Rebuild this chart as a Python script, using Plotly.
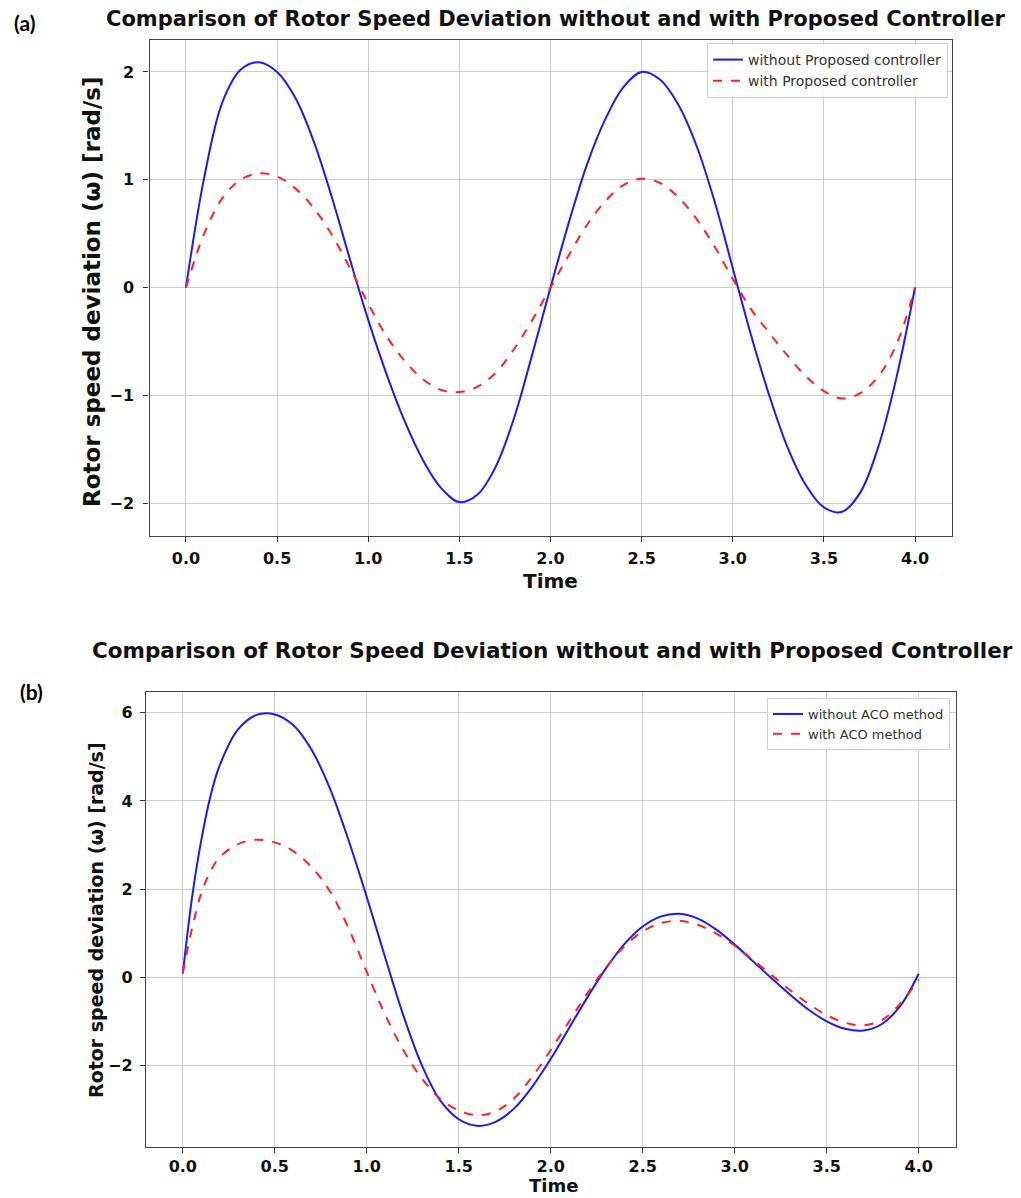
import plotly.graph_objects as go

# ---------------- data ----------------
time_a = [0.0, 0.1, 0.2, 0.3, 0.4, 0.5, 0.6, 0.7, 0.8, 0.9,
          1.0, 1.1, 1.2, 1.3, 1.4, 1.5, 1.6, 1.7, 1.8, 1.9,
          2.0, 2.1, 2.2, 2.3, 2.4, 2.5, 2.6, 2.7, 2.8, 2.9,
          3.0, 3.1, 3.2, 3.3, 3.4, 3.5, 3.6, 3.7, 3.8, 3.9, 4.0]
without_proposed = [0.0, 1.02, 1.72, 2.02, 2.09, 2.00, 1.76, 1.36, 0.84, 0.26,
                    -0.30, -0.80, -1.24, -1.60, -1.86, -1.99, -1.92, -1.66, -1.21, -0.62,
                    0.0, 0.60, 1.14, 1.56, 1.86, 2.00, 1.93, 1.70, 1.32, 0.80,
                    0.18, -0.44, -1.00, -1.48, -1.83, -2.04, -2.08, -1.90, -1.47, -0.82, 0.0]
with_proposed = [0.0, 0.50, 0.83, 1.00, 1.06, 1.03, 0.92, 0.74, 0.49, 0.18,
                 -0.15, -0.45, -0.68, -0.85, -0.95, -0.97, -0.92, -0.79, -0.57, -0.30,
                 0.0, 0.30, 0.58, 0.80, 0.95, 1.01, 0.97, 0.84, 0.64, 0.38,
                 0.08, -0.20, -0.42, -0.63, -0.82, -0.96, -1.03, -0.98, -0.82, -0.52, 0.0]

time_b = [0.0, 0.05, 0.1, 0.15, 0.2, 0.3, 0.4, 0.5, 0.6, 0.7, 0.8, 0.9,
          1.0, 1.1, 1.2, 1.3, 1.4, 1.5, 1.6, 1.7, 1.8, 1.9,
          2.0, 2.1, 2.2, 2.3, 2.4, 2.5, 2.6, 2.7, 2.8, 2.9,
          3.0, 3.1, 3.2, 3.3, 3.4, 3.5, 3.6, 3.7, 3.8, 3.9, 4.0]
without_aco = [0.08, 1.80, 3.10, 4.10, 4.80, 5.62, 5.95, 5.96, 5.72, 5.16, 4.28, 3.12,
               1.82, 0.45, -0.88, -2.00, -2.80, -3.22, -3.37, -3.28, -2.98, -2.48,
               -1.85, -1.15, -0.45, 0.20, 0.75, 1.15, 1.38, 1.44, 1.33, 1.08,
               0.74, 0.36, -0.02, -0.39, -0.73, -1.00, -1.17, -1.21, -1.06, -0.65, 0.08]
with_aco = [0.10, 1.10, 1.90, 2.40, 2.72, 3.02, 3.12, 3.06, 2.86, 2.50, 1.95, 1.12,
            0.12, -0.85, -1.66, -2.30, -2.76, -3.02, -3.13, -3.04, -2.75, -2.25,
            -1.65, -1.00, -0.36, 0.22, 0.70, 1.04, 1.23, 1.28, 1.19, 0.99,
            0.72, 0.39, 0.05, -0.29, -0.60, -0.86, -1.03, -1.09, -0.97, -0.60, -0.05]

x_ticks = [0.0, 0.5, 1.0, 1.5, 2.0, 2.5, 3.0, 3.5, 4.0]
y_ticks_a = [-2, -1, 0, 1, 2]
y_ticks_b = [-2, 0, 2, 4, 6]

title_text = "Comparison of Rotor Speed Deviation without and with Proposed Controller"
ylabel_text = "Rotor speed deviation (\u03c9) [rad/s]"

# ---------------- figure ----------------
W, H = 1021, 1198
BLUE = "#1a1aff"
RED = "#ff2020"

fig = go.Figure()
fig.add_trace(go.Scatter(x=time_a, y=without_proposed, mode="lines", name="without Proposed controller",
                         line=dict(color=BLUE, width=2, shape="spline", smoothing=1.0),
                         xaxis="x", yaxis="y", legend="legend"))
fig.add_trace(go.Scatter(x=time_a, y=with_proposed, mode="lines", name="with Proposed controller",
                         line=dict(color=RED, width=2, dash="dash", shape="spline", smoothing=1.0),
                         xaxis="x", yaxis="y", legend="legend"))
fig.add_trace(go.Scatter(x=time_b, y=without_aco, mode="lines", name="without ACO method",
                         line=dict(color=BLUE, width=2, shape="spline", smoothing=1.0),
                         xaxis="x2", yaxis="y2", legend="legend2"))
fig.add_trace(go.Scatter(x=time_b, y=with_aco, mode="lines", name="with ACO method",
                         line=dict(color=RED, width=2, dash="dash", shape="spline", smoothing=1.0),
                         xaxis="x2", yaxis="y2", legend="legend2"))

tick_font = dict(family="DejaVu Sans", size=16, color="#111111", weight="bold")

def px_x(p):
    return p / W

def px_y(p):
    return 1 - p / H

common_axis = dict(showline=True, linecolor="#444444", linewidth=1.3, mirror=True,
                   showgrid=True, gridcolor="#cccccc", gridwidth=1,
                   ticks="outside", ticklen=5, tickwidth=1.2, tickcolor="#333333",
                   zeroline=False, tickfont=tick_font, automargin=False)

fig.update_layout(
    width=W, height=H,
    margin=dict(l=0, r=0, t=0, b=0),
    paper_bgcolor="white", plot_bgcolor="white",
    showlegend=True,
    xaxis=dict(domain=[px_x(149.5), px_x(951.5)], range=[-0.2, 4.2], tickvals=x_ticks,
               tickformat=".1f", anchor="y", ticklabelstandoff=3, **common_axis),
    yaxis=dict(domain=[px_y(535.5), px_y(39.6)], range=[-2.3, 2.3], tickvals=y_ticks_a,
               anchor="x", ticklabelstandoff=6, **common_axis),
    xaxis2=dict(domain=[px_x(146), px_x(955.5)], range=[-0.2, 4.2], tickvals=x_ticks,
                tickformat=".1f", anchor="y2", ticklabelstandoff=0, **common_axis),
    yaxis2=dict(domain=[px_y(1147), px_y(692)], range=[-3.85, 6.47], tickvals=y_ticks_b,
                anchor="x2", ticklabelstandoff=4, **common_axis),
    legend=dict(x=px_x(948), y=px_y(43), xanchor="right", yanchor="top",
                bgcolor="rgba(255,255,255,0.85)", bordercolor="#d0d0d0", borderwidth=1,
                font=dict(family="DejaVu Sans", size=14, color="#333333"),
                tracegroupgap=0, itemwidth=30),
    legend2=dict(x=px_x(950), y=px_y(698), xanchor="right", yanchor="top",
                 bgcolor="rgba(255,255,255,0.85)", bordercolor="#d0d0d0", borderwidth=1,
                 font=dict(family="DejaVu Sans", size=13, color="#333333"),
                 tracegroupgap=0, itemwidth=30),
)

annotations = [
    dict(text="<b>" + title_text + "</b>", x=px_x(556), y=px_y(19), xref="paper", yref="paper",
         xanchor="center", yanchor="middle", showarrow=False,
         font=dict(family="DejaVu Sans", size=21, color="#111111")),
    dict(text="<b>" + title_text + "</b>", x=px_x(552), y=px_y(650), xref="paper", yref="paper",
         xanchor="center", yanchor="middle", showarrow=False,
         font=dict(family="DejaVu Sans", size=21.5, color="#111111")),
    dict(text="<b>(a)</b>", x=px_x(24), y=px_y(22), xref="paper", yref="paper",
         xanchor="center", yanchor="middle", showarrow=False,
         font=dict(family="Lato", size=21, color="#000000")),
    dict(text="<b>(b)</b>", x=px_x(31), y=px_y(691), xref="paper", yref="paper",
         xanchor="center", yanchor="middle", showarrow=False,
         font=dict(family="Lato", size=21, color="#000000")),
    dict(text="<b>" + ylabel_text + "</b>", x=px_x(92), y=px_y(292), xref="paper", yref="paper",
         xanchor="center", yanchor="middle", showarrow=False, textangle=-90,
         font=dict(family="DejaVu Sans", size=23, color="#111111")),
    dict(text="<b>" + ylabel_text + "</b>", x=px_x(96), y=px_y(920), xref="paper", yref="paper",
         xanchor="center", yanchor="middle", showarrow=False, textangle=-90,
         font=dict(family="DejaVu Sans", size=19, color="#111111")),
    dict(text="<b>Time</b>", x=px_x(550), y=px_y(581), xref="paper", yref="paper",
         xanchor="center", yanchor="middle", showarrow=False,
         font=dict(family="DejaVu Sans", size=20, color="#111111")),
    dict(text="<b>Time</b>", x=px_x(553), y=px_y(1197), xref="paper", yref="paper",
         xanchor="center", yanchor="bottom", showarrow=False, borderpad=0,
         font=dict(family="DejaVu Sans", size=18, color="#111111")),
]
fig.update_layout(annotations=annotations)

fig.write_html("out.html")
